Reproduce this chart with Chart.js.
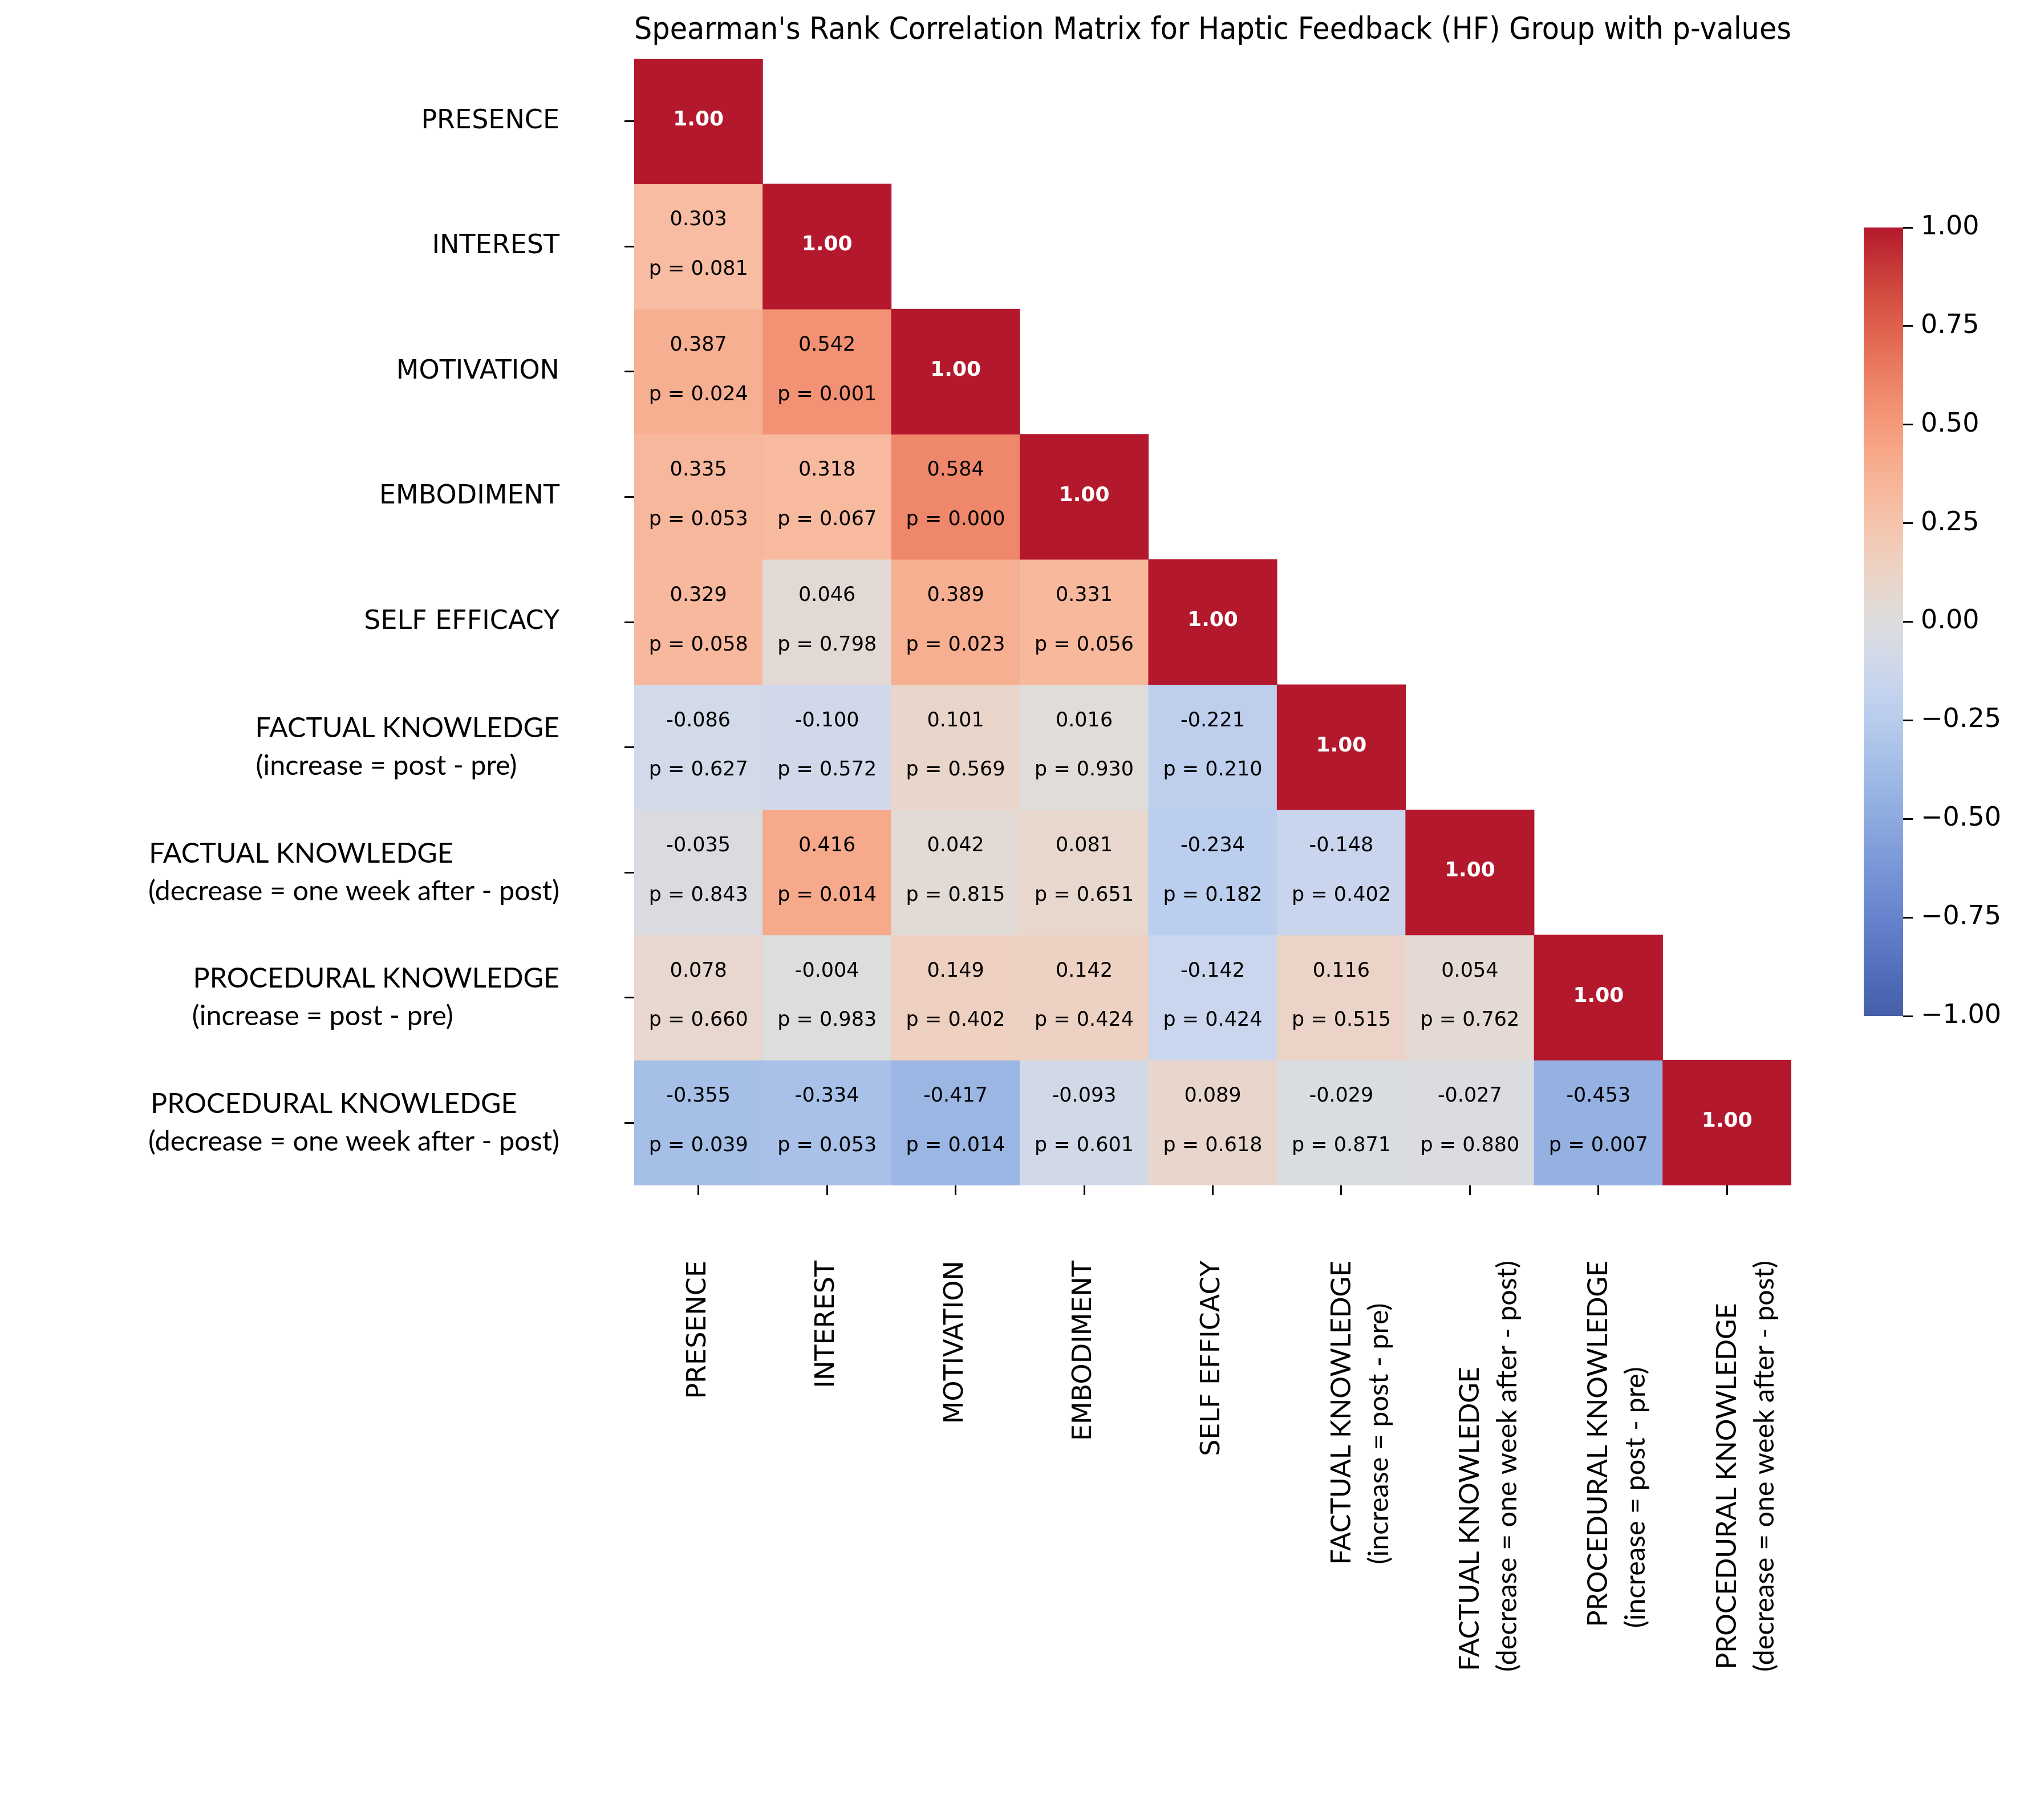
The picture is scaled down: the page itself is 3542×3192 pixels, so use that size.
<!DOCTYPE html>
<html>
<head>
<meta charset="utf-8">
<title>Spearman correlation matrix (HF group)</title>
<script src="https://cdn.jsdelivr.net/npm/chart.js@4.4.1/dist/chart.umd.min.js"></script>
<style>
  html, body { margin: 0; padding: 0; background: #fff; overflow: hidden; }
  #page { position: relative; width: 3542px; height: 3192px; }
  #heatWrap { position: absolute; left: 0; top: 0; width: 3542px; height: 3192px; }
  #barWrap { position: absolute; left: 3268px; top: 300px; width: 274px; height: 1582px; }
</style>
</head>
<body>
<div id="page">
  <div id="heatWrap"><canvas id="heatmap"></canvas></div>
  <div id="barWrap"><canvas id="colorbar"></canvas></div>
</div>
<script>
// variables (same order on both axes)
const variables = [
    'PRESENCE',
    'INTEREST',
    'MOTIVATION',
    'EMBODIMENT',
    'SELF EFFICACY',
    ['FACTUAL KNOWLEDGE', '(increase = post - pre)'],
    ['FACTUAL KNOWLEDGE', '(decrease = one week after - post)'],
    ['PROCEDURAL KNOWLEDGE', '(increase = post - pre)'],
    ['PROCEDURAL KNOWLEDGE', '(decrease = one week after - post)']
];

// Spearman rho, lower triangle row by row (diagonal is 1.00)
const rhoValues = [
    [],
    [0.303],
    [0.387, 0.542],
    [0.335, 0.318, 0.584],
    [0.329, 0.046, 0.389, 0.331],
    [-0.086, -0.100, 0.101, 0.016, -0.221],
    [-0.035, 0.416, 0.042, 0.081, -0.234, -0.148],
    [0.078, -0.004, 0.149, 0.142, -0.142, 0.116, 0.054],
    [-0.355, -0.334, -0.417, -0.093, 0.089, -0.029, -0.027, -0.453]
];

// p-values, same layout
const pValues = [
    [],
    [0.081],
    [0.024, 0.001],
    [0.053, 0.067, 0.000],
    [0.058, 0.798, 0.023, 0.056],
    [0.627, 0.572, 0.569, 0.930, 0.210],
    [0.843, 0.014, 0.815, 0.651, 0.182, 0.402],
    [0.660, 0.983, 0.402, 0.424, 0.424, 0.515, 0.762],
    [0.039, 0.053, 0.014, 0.601, 0.618, 0.871, 0.880, 0.007]
];

const colorbarTicks = [-1, -0.75, -0.5, -0.25, 0, 0.25, 0.5, 0.75, 1];

// coolwarm lookup (33 stops), tuned a little to the printed colours
const coolwarmStops = [
    [69, 94, 168], [76, 103, 178], [85, 112, 188], [94, 122, 197],
    [103, 131, 205], [112, 141, 211], [121, 150, 216], [131, 160, 220],
    [141, 170, 223], [151, 179, 226], [162, 188, 230], [173, 196, 233],
    [184, 204, 236], [194, 210, 238], [204, 215, 236], [213, 218, 229],
    [221, 221, 221], [229, 216, 209], [236, 211, 197], [241, 204, 185],
    [245, 196, 173], [247, 187, 160], [247, 177, 148], [247, 166, 135],
    [244, 154, 123], [241, 141, 111], [236, 127, 99], [229, 112, 88],
    [222, 96, 77], [213, 80, 66], [203, 64, 60], [192, 44, 51],
    [180, 24, 44]
];

function coolwarm(v) {
    let t = (v + 1) / 2;
    t = Math.min(1, Math.max(0, t)) * (coolwarmStops.length - 1);
    const k = Math.min(Math.floor(t), coolwarmStops.length - 2);
    const f = t - k;
    const a = coolwarmStops[k], b = coolwarmStops[k + 1];
    const c = a.map((ch, n) => Math.round(ch + (b[n] - ch) * f));
    return `rgb(${c[0]}, ${c[1]}, ${c[2]})`;
}

const twoLineFont = { family: 'Lato', size: 48.5, lineHeight: 1.36 };
const oneLineFont = { family: 'DejaVu Sans', size: 46 };

function labelFont(i) {
    return Array.isArray(variables[i]) ? twoLineFont : oneLineFont;
}

// the two-line labels are left aligned inside their block:
// pad the shorter line with trailing spaces so the block reads that way
const measureCtx = document.createElement('canvas').getContext('2d');
function blockLabel(name) {
    if (!Array.isArray(name)) return name;
    measureCtx.font = `${twoLineFont.size}px ${twoLineFont.family}`;
    const widths = name.map((l) => measureCtx.measureText(l).width);
    const widest = Math.max(...widths);
    const space = measureCtx.measureText(' ').width;
    return name.map((l, k) => l + ' '.repeat(Math.round((widest - widths[k]) / space)));
}
const axisLabels = variables.map(blockLabel);

Chart.defaults.font.family = 'DejaVu Sans';
Chart.defaults.color = '#000';

// one dataset per row, each cell a floating bar [row, row + 1]
const datasets = variables.map((name, i) => ({
    label: Array.isArray(name) ? name.join(' ') : name,
    data: variables.map((_, j) => (j <= i ? [i, i + 1] : null)),
    backgroundColor: variables.map((_, j) => {
        if (j < i) return coolwarm(rhoValues[i][j]);
        if (j === i) return coolwarm(1);
        return 'rgba(0,0,0,0)';
    }),
    borderWidth: 0,
    barPercentage: 1,
    categoryPercentage: 1,
    grouped: false
}));

// writes rho / p into each cell
const cellText = {
    id: 'cellText',
    afterDatasetsDraw(chart) {
        const { ctx } = chart;
        const x = chart.scales.x;
        const y = chart.scales.y;
        ctx.save();
        ctx.textAlign = 'center';
        ctx.textBaseline = 'middle';
        variables.forEach((_, i) => {
            for (let j = 0; j <= i; j++) {
                const cx = x.getPixelForValue(j);
                if (j === i) {
                    ctx.font = 'bold 36px "DejaVu Sans"';
                    ctx.fillStyle = '#fff';
                    ctx.fillText('1.00', cx, y.getPixelForValue(i + 0.49));
                } else {
                    ctx.font = '35px "DejaVu Sans"';
                    ctx.fillStyle = '#000';
                    ctx.fillText(rhoValues[i][j].toFixed(3), cx, y.getPixelForValue(i + 0.29));
                    ctx.fillText('p = ' + pValues[i][j].toFixed(3), cx, y.getPixelForValue(i + 0.685));
                }
            }
        });
        ctx.restore();
    }
};

const tickGrid = {
    drawOnChartArea: false,
    drawTicks: true,
    tickLength: 17,
    tickWidth: 3,
    tickColor: '#000'
};

new Chart(document.getElementById('heatmap'), {
    type: 'bar',
    data: { labels: axisLabels, datasets: datasets },
    plugins: [cellText],
    options: {
        responsive: true,
        maintainAspectRatio: false,
        devicePixelRatio: 1,
        animation: false,
        layout: { padding: { left: 0, right: 401, top: 0, bottom: 0 } },
        plugins: {
            legend: { display: false },
            tooltip: { enabled: false },
            title: {
                display: true,
                fullSize: false,
                text: "Spearman's Rank Correlation Matrix for Haptic Feedback (HF) Group with p-values",
                color: '#000',
                font: { family: 'DejaVu Sans', size: 54, weight: 'normal', lineHeight: 1.2 },
                padding: { top: 21.6, bottom: 16.6 }
            }
        },
        scales: {
            x: {
                type: 'category',
                offset: true,
                grid: Object.assign({ offset: false }, tickGrid),
                border: { display: false },
                ticks: {
                    autoSkip: false,
                    minRotation: 90,
                    maxRotation: 90,
                    padding: 115,
                    color: '#000',
                    font: (c) => labelFont(c.index)
                },
                afterFit: (s) => {
                    s.height = 3192 - 2079;
                    s.paddingLeft = 0;
                    s.paddingRight = 0;
                }
            },
            y: {
                type: 'linear',
                min: 0,
                max: 9,
                reverse: true,
                afterBuildTicks: (s) => {
                    s.ticks = variables.map((_, i) => ({ value: i + 0.5 }));
                },
                grid: tickGrid,
                border: { display: false },
                ticks: {
                    autoSkip: false,
                    padding: 114,
                    color: '#000',
                    font: (c) => labelFont(c.index),
                    callback: (v) => axisLabels[Math.floor(v)]
                },
                afterFit: (s) => {
                    s.width = 1112;
                    s.paddingTop = 0;
                    s.paddingBottom = 0;
                }
            }
        }
    }
});

// colour bar: one floating bar from -1 to 1 filled with the colormap
new Chart(document.getElementById('colorbar'), {
    type: 'bar',
    data: {
        labels: [''],
        datasets: [{
            data: [[-1, 1]],
            borderWidth: 0,
            barPercentage: 1,
            categoryPercentage: 1,
            backgroundColor: (c) => {
                const ys = c.chart.scales.y;
                if (!ys || !c.chart.chartArea) return coolwarm(0);
                const g = c.chart.ctx.createLinearGradient(0, ys.getPixelForValue(-1), 0, ys.getPixelForValue(1));
                coolwarmStops.forEach((col, k) => {
                    g.addColorStop(k / (coolwarmStops.length - 1), `rgb(${col[0]}, ${col[1]}, ${col[2]})`);
                });
                return g;
            }
        }]
    },
    options: {
        responsive: true,
        maintainAspectRatio: false,
        devicePixelRatio: 1,
        animation: false,
        layout: { padding: { top: 99, bottom: 100, left: 0, right: 0 } },
        plugins: { legend: { display: false }, tooltip: { enabled: false } },
        scales: {
            x: { display: false },
            y: {
                position: 'right',
                min: -1,
                max: 1,
                afterBuildTicks: (s) => {
                    s.ticks = colorbarTicks.map((v) => ({ value: v }));
                },
                grid: tickGrid,
                border: { display: false },
                ticks: {
                    padding: 14,
                    color: '#000',
                    font: { family: 'DejaVu Sans', size: 46 },
                    callback: (v) => (v < 0 ? '\u2212' : '') + Math.abs(v).toFixed(2)
                },
                afterFit: (s) => {
                    s.width = 274 - 69;
                    s.paddingTop = 0;
                    s.paddingBottom = 0;
                }
            }
        }
    }
});
</script>
</body>
</html>
